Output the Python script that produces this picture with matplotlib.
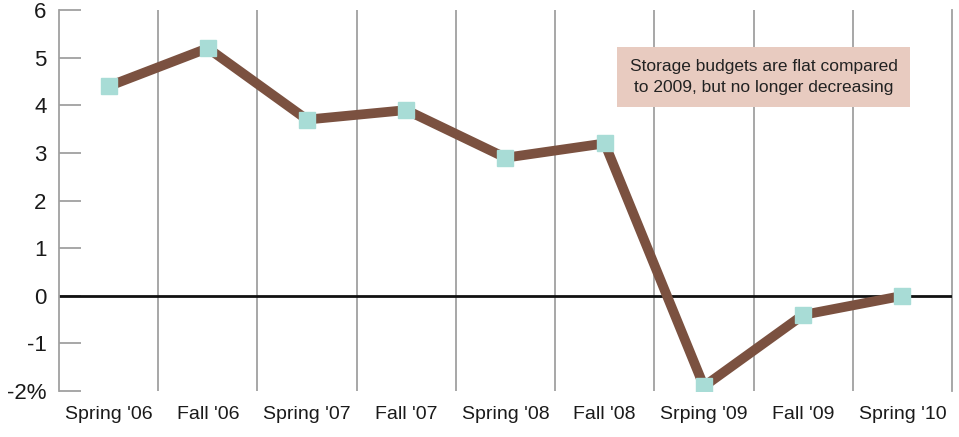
import matplotlib
matplotlib.use("Agg")
import matplotlib.pyplot as plt
import numpy as np

plt.rcParams['font.family'] = ['Liberation Sans', 'DejaVu Sans']

periods = ["Spring '06", "Fall '06", "Spring '07", "Fall '07", "Spring '08",
           "Fall '08", "Srping '09", "Fall '09", "Spring '10"]
change = [4.4, 5.2, 3.7, 3.9, 2.9, 3.2, -1.9, -0.4, 0.0]
yticks = [-2, -1, 0, 1, 2, 3, 4, 5, 6]
ylabels = ["-2%", "-1", "0", "1", "2", "3", "4", "5", "6"]
note = "Storage budgets are flat compared\nto 2009, but no longer decreasing"

fig = plt.figure(figsize=(9.59, 4.37), dpi=100)
ax = fig.add_axes([0.0615, 0.105, 0.9312, 0.872])

x = np.arange(len(periods))
for b in x[:-1] + 0.5:
    ax.axvline(b, color='#a0a0a0', lw=1.3, zorder=1)
ax.axvline(len(periods) - 0.5, color='#a0a0a0', lw=1.3, zorder=1, clip_on=False)
ax.axhline(0, color='#111111', lw=2, zorder=2)

ax.plot(x, change, color='#7b5140', lw=7, zorder=3)
ax.plot(x, change, 's', color='#a8dcd6', ms=12, zorder=4)

ax.set_xlim(-0.5, len(periods) - 0.5)
ax.set_ylim(-2, 6)
ax.set_xticks(x)
ax.set_xticklabels(periods, fontsize=14, color='#1a1a1a')
ax.set_yticks(yticks)
ax.set_yticklabels(ylabels, fontsize=16, color='#1a1a1a')
ax.tick_params(axis='x', length=0, pad=11)
ax.tick_params(axis='y', direction='in', length=16, width=1.3, color='#a0a0a0', pad=9)

for s in ['top', 'right', 'bottom']:
    ax.spines[s].set_visible(False)
ax.spines['left'].set_color('#a0a0a0')
ax.spines['left'].set_linewidth(1.3)

ax.text(6.6, 4.6, note, ha='center', va='center', fontsize=12.5, color='#222222',
        linespacing=1.5, zorder=5,
        bbox=dict(boxstyle='square,pad=0.7', fc='#e8cbc0', ec='none'))

fig.savefig("out.png", dpi=100)
